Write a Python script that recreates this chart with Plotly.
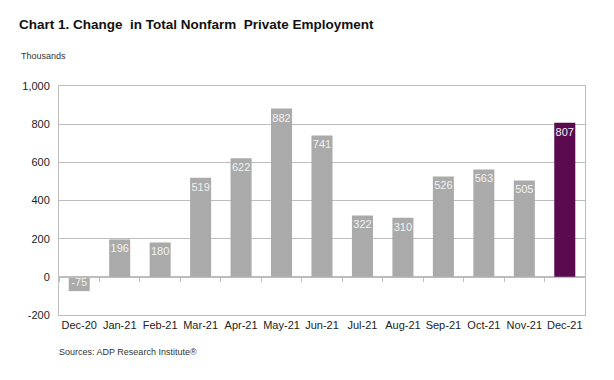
import plotly.graph_objects as go

months = ["Dec-20", "Jan-21", "Feb-21", "Mar-21", "Apr-21", "May-21", "Jun-21",
          "Jul-21", "Aug-21", "Sep-21", "Oct-21", "Nov-21", "Dec-21"]
values = [-75, 196, 180, 519, 622, 882, 741, 322, 310, 526, 563, 505, 807]
tick_vals = [-200, 0, 200, 400, 600, 800, 1000]
tick_text = ["-200", "0", "200", "400", "600", "800", "1,000"]

gray = "#A9AAA9"
purple = "#5C0A50"
colors = [gray] * (len(months) - 1) + [purple]

OFF = 8  # page body offset
W, H = 614 - OFF, 380 - OFF
L, R, T, B = 59 - OFF, 29, 86 - OFF, 65

fig = go.Figure()
fig.add_trace(go.Bar(
    x=months, y=values, marker=dict(color=colors, line=dict(width=0)),
    width=0.52, text=[str(v) for v in values], textposition="inside",
    insidetextanchor="end", textangle=0, constraintext="none",
    textfont=dict(family="Liberation Sans, Arial", size=11, color="#F2F2F2"),
    cliponaxis=False, showlegend=False, hoverinfo="skip",
))
# zero-line axis carrying the category tick marks
fig.add_trace(go.Scatter(x=months, y=[None] * len(months), xaxis="x2",
                         showlegend=False, hoverinfo="skip"))

fig.update_layout(
    width=W, height=H,
    margin=dict(l=L, r=R, t=T, b=B),
    paper_bgcolor="white", plot_bgcolor="white",
    font=dict(family="Liberation Sans, Arial", size=11, color="#222222"),
    uniformtext=dict(minsize=11, mode="show"),
    xaxis=dict(
        type="category", showgrid=False, showline=True, linecolor="#BDBDBD",
        linewidth=1, mirror=True, ticks="", tickfont=dict(size=11, color="#222222"),
        range=[-0.5, 12.5],
    ),
    xaxis2=dict(
        type="category", overlaying="x", anchor="free", position=200 / 1200,
        showline=True, linecolor="#BDBDBD", linewidth=1, ticks="outside",
        tickson="boundaries", ticklen=4, tickcolor="#BDBDBD",
        showticklabels=False, showgrid=False, range=[-0.5, 12.5],
    ),
    yaxis=dict(
        range=[-200, 1000], tickvals=tick_vals, ticktext=tick_text,
        showgrid=True, gridcolor="#BDBDBD", gridwidth=1, zeroline=False,
        showline=True, linecolor="#BDBDBD", linewidth=1, mirror=True,
        ticks="", ticklabelstandoff=6, tickfont=dict(size=11, color="#222222"),
    ),
)

pw = W - L - R
ph = H - T - B
def ann(text, px, py, size, color, bold=False, family="Liberation Sans, Arial"):
    fig.add_annotation(
        text=f"<b>{text}</b>" if bold else text,
        x=(px - OFF - L) / pw, y=1 - (py - OFF - T) / ph,
        xref="paper", yref="paper", showarrow=False,
        xanchor="left", yanchor="middle",
        font=dict(family=family, size=size, color=color))

ann("Chart 1. Change  in Total Nonfarm  Private Employment", 17, 25, 13.5, "#111111",
    bold=True)
ann("Thousands", 19, 56, 9, "#333333")
ann("Sources: ADP Research Institute®", 57, 352, 9, "#333333")

fig.write_html("out.html")
